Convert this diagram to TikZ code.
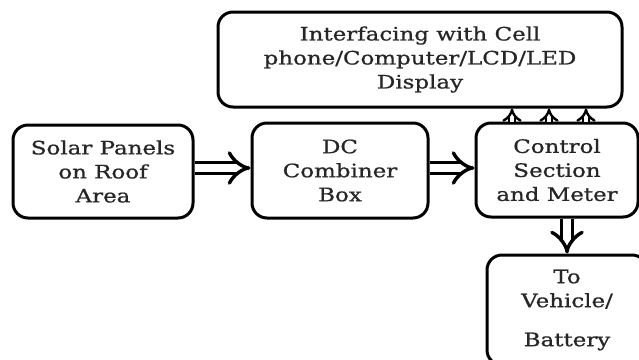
\documentclass[tikz,border=0pt]{standalone}
\usepackage{fontspec}
\setmainfont[FakeStretch=1.24,FakeBold=0.8]{DejaVu Serif}
\usetikzlibrary{arrows.meta}
\begin{document}
\begin{tikzpicture}[x=1pt,y=-1pt,
  box/.style={draw, line width=3pt, rounded corners=15pt, align=center,
    font=\fontsize{18.5}{24}\selectfont, text=black!85, inner sep=0pt, fill=white},
  dbl/.style={double, double distance=8pt, line width=3.4pt, -{Implies[scale=1.1]}},
  thindbl/.style={double, double distance=4pt, line width=2.4pt, -{Implies[scale=1.1]}},
]
\clip (0,0) rectangle (639,359);
\fill[white] (0,0) rectangle (639,359);
\node[box, minimum width=404pt, minimum height=95pt] (top) at (420,59.5)
  {Interfacing with Cell\\phone/Computer/LCD/LED\\Display};
\node[box, minimum width=180pt, minimum height=93pt] (solar) at (103,171.5)
  {Solar Panels\\on Roof\\Area};
\node[box, minimum width=176pt, minimum height=95pt] (dc) at (340,170.5)
  {DC\\Combiner\\Box};
\node[box, minimum width=162pt, minimum height=94pt] (ctrl) at (557,170)
  {Control\\Section\\and Meter};
\node[box, minimum width=160pt, minimum height=110pt] (veh) at (567,310)
  {To\\Vehicle/\\[15pt]Battery};
\draw[dbl] (solar.east |- 0,168) -- (dc.west |- 0,168);
\draw[dbl] (dc.east |- 0,168) -- (ctrl.west |- 0,168);
\foreach \x in {512,549,586}
  \draw[thindbl] (ctrl.north -| \x,0) -- (top.south -| \x,0);
\draw[dbl] (ctrl.south -| veh.north) -- (veh.north);
\end{tikzpicture}
\end{document}
